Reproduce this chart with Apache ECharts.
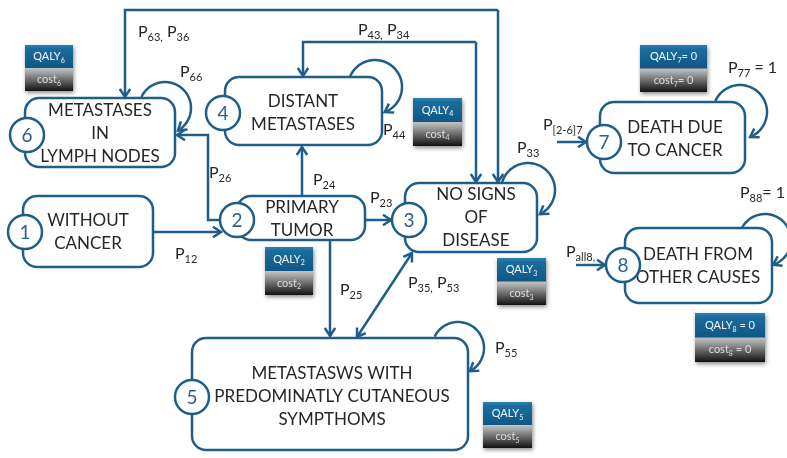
<!DOCTYPE html>
<html><head><meta charset="utf-8">
<script src="https://cdn.jsdelivr.net/npm/echarts@6/dist/echarts.min.js"></script>
<style>html,body{margin:0;padding:0;background:#fff}#c{width:787px;height:458px}</style>
</head><body><div id="c"></div>
<script>
// ---- diagram content ----
const nodeNumbers = [1, 2, 3, 4, 5, 6, 7, 8];
const nodeTexts = [
  ['WITHOUT', 'CANCER'],
  ['PRIMARY', 'TUMOR'],
  ['NO SIGNS', 'OF', 'DISEASE'],
  ['DISTANT', 'METASTASES'],
  ['METASTASWS WITH', 'PREDOMINATLY CUTANEOUS', 'SYMPTHOMS'],
  ['METASTASES', 'IN', 'LYMPH NODES'],
  ['DEATH DUE', 'TO CANCER'],
  ['DEATH FROM', 'OTHER CAUSES']
];
// layout (diagram coordinates)
const nodeBoxes = [[23,196,153,267],[237,196,365,240],[405,183,537,252],[225,77,382,145],[192,338,468,450],[25,98,175,167],[600,102,745,173],[625,228,772,303]];
const nodeCircles = [[25,232],[237,220],[409,220],[223,113],[192,397],[27,135],[604,142],[623,265]];
const nodeTextCenters = [[88,232],[302,219],[476,218],[303,113],[332,397],[100,134],[675,139],[698,266]];

// transitions: polyline routes, arrow at end (and at start if both)
const edgeRoutes = [
  [[153,232],[221,232]],
  [[221,220],[208,220],[208,135],[177,135]],
  [[302,196],[302,147]],
  [[365,220],[391,220]],
  [[330,240],[330,336]],
  [[412,253],[357,337]],
  [[498,10],[498,182]],
  [[498,10],[125,10],[125,97]],
  [[476,42],[476,182]],
  [[476,42],[303,42],[303,76]],
  [[557,142],[586,142]],
  [[576,265],[605,265]]
];
const edgeArrowStart = [false,false,false,false,false,true,false,false,false,false,false,false];

// self loops: centre x, centre y, radius, start angle, end angle (deg, clockwise on screen)
const selfLoops = [[165,108,26,205,420],[375,87,27,200,429],[528,190,27,196,424],[740,112,27,204,428],[765,240,26,202,432],[458,348,26,206,423]];

// transition probability labels: tokens [main, subscript]
const probLabels = [
  [['P','63,'],[' P','36']],
  [['P','43,'],[' P','34']],
  [['P','66']],
  [['P','44']],
  [['P','26']],
  [['P','24']],
  [['P','23']],
  [['P','12']],
  [['P','25']],
  [['P','35,'],[' P','53']],
  [['P','33']],
  [['P','55']],
  [['P','[2-6]7']],
  [['P','all8,']],
  [['P','77'],[' = 1','']],
  [['P','88'],['= 1','']]
];
const probLabelPos = [[138,32],[358,30],[180,72],[383,130],[209,173],[313,180],[370,198],[175,254],[340,290],[408,283],[517,148],[495,348],[543,125],[566,252],[728,68],[740,193]];

// QALY / cost badges
const badgeQaly = [['QALY','6',''],['QALY','4',''],['QALY','2',''],['QALY','3',''],['QALY','5',''],['QALY','7','= 0'],['QALY','8',' = 0']];
const badgeCost = [['cost','6',''],['cost','4',''],['cost','2',''],['cost','3',''],['cost','5',''],['cost','7','= 0'],['cost','8',' = 0']];
const badgeRects = [[25,45,48,46],[413,98,49,48],[265,247,48,48],[497,258,49,47],[483,402,49,46],[640,45,67,47],[695,313,70,49]];

// ---- rendering ----
const EDGE = '#1f5e8b';
const TXT = '#262626';
const FONT = 'Lato';

function chevron(tip, from, size) {
  const dx = tip[0]-from[0], dy = tip[1]-from[1], L = Math.hypot(dx,dy) || 1;
  const ux = dx/L, uy = dy/L;
  const bx = tip[0]-ux*size, by = tip[1]-uy*size;
  const px = -uy*size*0.65, py = ux*size*0.65;
  return [[bx+px,by+py],[tip[0],tip[1]],[bx-px,by-py]];
}
function richText(tokens, mainStyle, subStyle) {
  return tokens.map(t => '{m|' + t[0] + '}' + (t[1] ? '{s|' + t[1] + '}' : '') + (t[2] ? '{m|' + t[2] + '}' : '')).join('');
}

function renderBox(params, api) {
  const i = params.dataIndex;
  const p0 = api.coord([api.value(0), api.value(1)]);
  const p1 = api.coord([api.value(2), api.value(3)]);
  const c = api.coord(nodeCircles[i]);
  const tc = api.coord(nodeTextCenters[i]);
  return {type:'group', children:[
    {type:'rect', shape:{x:p0[0], y:p0[1], width:p1[0]-p0[0], height:p1[1]-p0[1], r:14},
      style:{fill:'#fff', stroke:EDGE, lineWidth:2.5}},
    {type:'text', style:{x:tc[0], y:tc[1], text:nodeTexts[i].join('\n'), align:'center', verticalAlign:'middle',
      fontFamily:FONT, fontSize:17, fill:TXT, lineHeight:23}},
    {type:'circle', shape:{cx:c[0], cy:c[1], r:17}, style:{fill:'#fff', stroke:EDGE, lineWidth:2.5}},
    {type:'text', style:{x:c[0], y:c[1]+1, text:String(nodeNumbers[i]), align:'center', verticalAlign:'middle',
      fontFamily:FONT, fontSize:19, fill:'#2d5f8c'}}
  ]};
}

function renderEdge(params, api) {
  const i = params.dataIndex;
  const pts = edgeRoutes[i].map(p => api.coord(p));
  const n = pts.length;
  const children = [
    {type:'polyline', shape:{points:pts}, style:{fill:null, stroke:EDGE, lineWidth:2.5, lineJoin:'miter'}},
    {type:'polyline', shape:{points:chevron(pts[n-1], pts[n-2], 8)}, style:{fill:null, stroke:EDGE, lineWidth:2.5}}
  ];
  if (edgeArrowStart[i]) {
    children.push({type:'polyline', shape:{points:chevron(pts[0], pts[1], 8)}, style:{fill:null, stroke:EDGE, lineWidth:2.5}});
  }
  return {type:'group', children};
}

function renderLoop(params, api) {
  const L = selfLoops[params.dataIndex];
  const pts = [];
  const N = 48;
  for (let k = 0; k <= N; k++) {
    const a = (L[3] + (L[4]-L[3]) * k / N) * Math.PI / 180;
    pts.push(api.coord([L[0] + L[2]*Math.cos(a), L[1] + L[2]*Math.sin(a)]));
  }
  const tip = pts[N];
  const back = pts[N-4];
  return {type:'group', children:[
    {type:'polyline', shape:{points:pts}, style:{fill:null, stroke:EDGE, lineWidth:2.5}},
    {type:'polyline', shape:{points:chevron(tip, back, 8)}, style:{fill:null, stroke:EDGE, lineWidth:2.5}}
  ]};
}

function renderLabel(params, api) {
  const i = params.dataIndex;
  const p = api.coord(probLabelPos[i]);
  return {type:'text', style:{x:p[0], y:p[1], text:richText(probLabels[i]), align:'left', verticalAlign:'middle',
    rich:{
      m:{fontFamily:FONT, fontSize:16, fill:TXT, lineHeight:20},
      s:{fontFamily:FONT, fontSize:11, fill:TXT, lineHeight:10, padding:[10,0,0,0]}
    }}};
}

function renderBadge(params, api) {
  const i = params.dataIndex;
  const r = badgeRects[i];
  const p0 = api.coord([r[0], r[1]]);
  const p1 = api.coord([r[0]+r[2], r[1]+r[3]]);
  const w = p1[0]-p0[0], h = p1[1]-p0[1], hh = h/2;
  const blue = new echarts.graphic.LinearGradient(0,0,0,1,[{offset:0,color:'#2c82b4'},{offset:0.15,color:'#1b6d9f'},{offset:1,color:'#0f5785'}]);
  const grey = new echarts.graphic.LinearGradient(0,0,0,1,[{offset:0,color:'#c4c4c4'},{offset:0.2,color:'#a3a3a3'},{offset:1,color:'#111'}]);
  const rq = {m:{fontFamily:FONT, fontSize:11, fill:'#f2f6fa', lineHeight:14}, s:{fontFamily:FONT, fontSize:7, fill:'#f2f6fa', lineHeight:6, padding:[8,0,0,0]}};
  const rc = {m:{fontFamily:FONT, fontSize:11, fill:'#dcdcdc', lineHeight:14}, s:{fontFamily:FONT, fontSize:7, fill:'#dcdcdc', lineHeight:6, padding:[8,0,0,0]}};
  return {type:'group', children:[
    {type:'rect', shape:{x:p0[0], y:p0[1], width:w, height:h},
      style:{fill:'#333', shadowBlur:4, shadowColor:'rgba(0,0,0,0.45)', shadowOffsetX:1, shadowOffsetY:2}},
    {type:'rect', shape:{x:p0[0], y:p0[1], width:w, height:hh}, style:{fill:blue}},
    {type:'rect', shape:{x:p0[0], y:p0[1]+hh, width:w, height:hh}, style:{fill:grey}},
    {type:'text', style:{x:p0[0]+w/2, y:p0[1]+hh/2, text:richText([badgeQaly[i]]), align:'center', verticalAlign:'middle', rich:rq}},
    {type:'text', style:{x:p0[0]+w/2, y:p0[1]+hh*1.5, text:richText([badgeCost[i]]), align:'center', verticalAlign:'middle', rich:rc}}
  ]};
}

const chart = echarts.init(document.getElementById('c'), null, {renderer:'canvas'});
chart.setOption({
  backgroundColor:'#fff',
  animation:false,
  grid:{left:0, right:0, top:0, bottom:0},
  xAxis:{type:'value', min:0, max:787, show:false},
  yAxis:{type:'value', min:0, max:458, inverse:true, show:false},
  series:[
    {type:'custom', name:'loops', coordinateSystem:'cartesian2d', z:1, silent:true, clip:false,
      data:selfLoops.map(l => [l[0], l[1]]), renderItem:renderLoop},
    {type:'custom', name:'states', coordinateSystem:'cartesian2d', z:2, silent:true, clip:false,
      data:nodeBoxes, encode:{x:[0,2], y:[1,3]}, renderItem:renderBox},
    {type:'custom', name:'transitions', coordinateSystem:'cartesian2d', z:3, silent:true, clip:false,
      data:edgeRoutes.map(r => r[0]), renderItem:renderEdge},
    {type:'custom', name:'probabilities', coordinateSystem:'cartesian2d', z:4, silent:true, clip:false,
      data:probLabelPos, renderItem:renderLabel},
    {type:'custom', name:'badges', coordinateSystem:'cartesian2d', z:5, silent:true, clip:false,
      data:badgeRects.map(r => [r[0], r[1]]), renderItem:renderBadge}
  ]
});
</script>
</body></html>
